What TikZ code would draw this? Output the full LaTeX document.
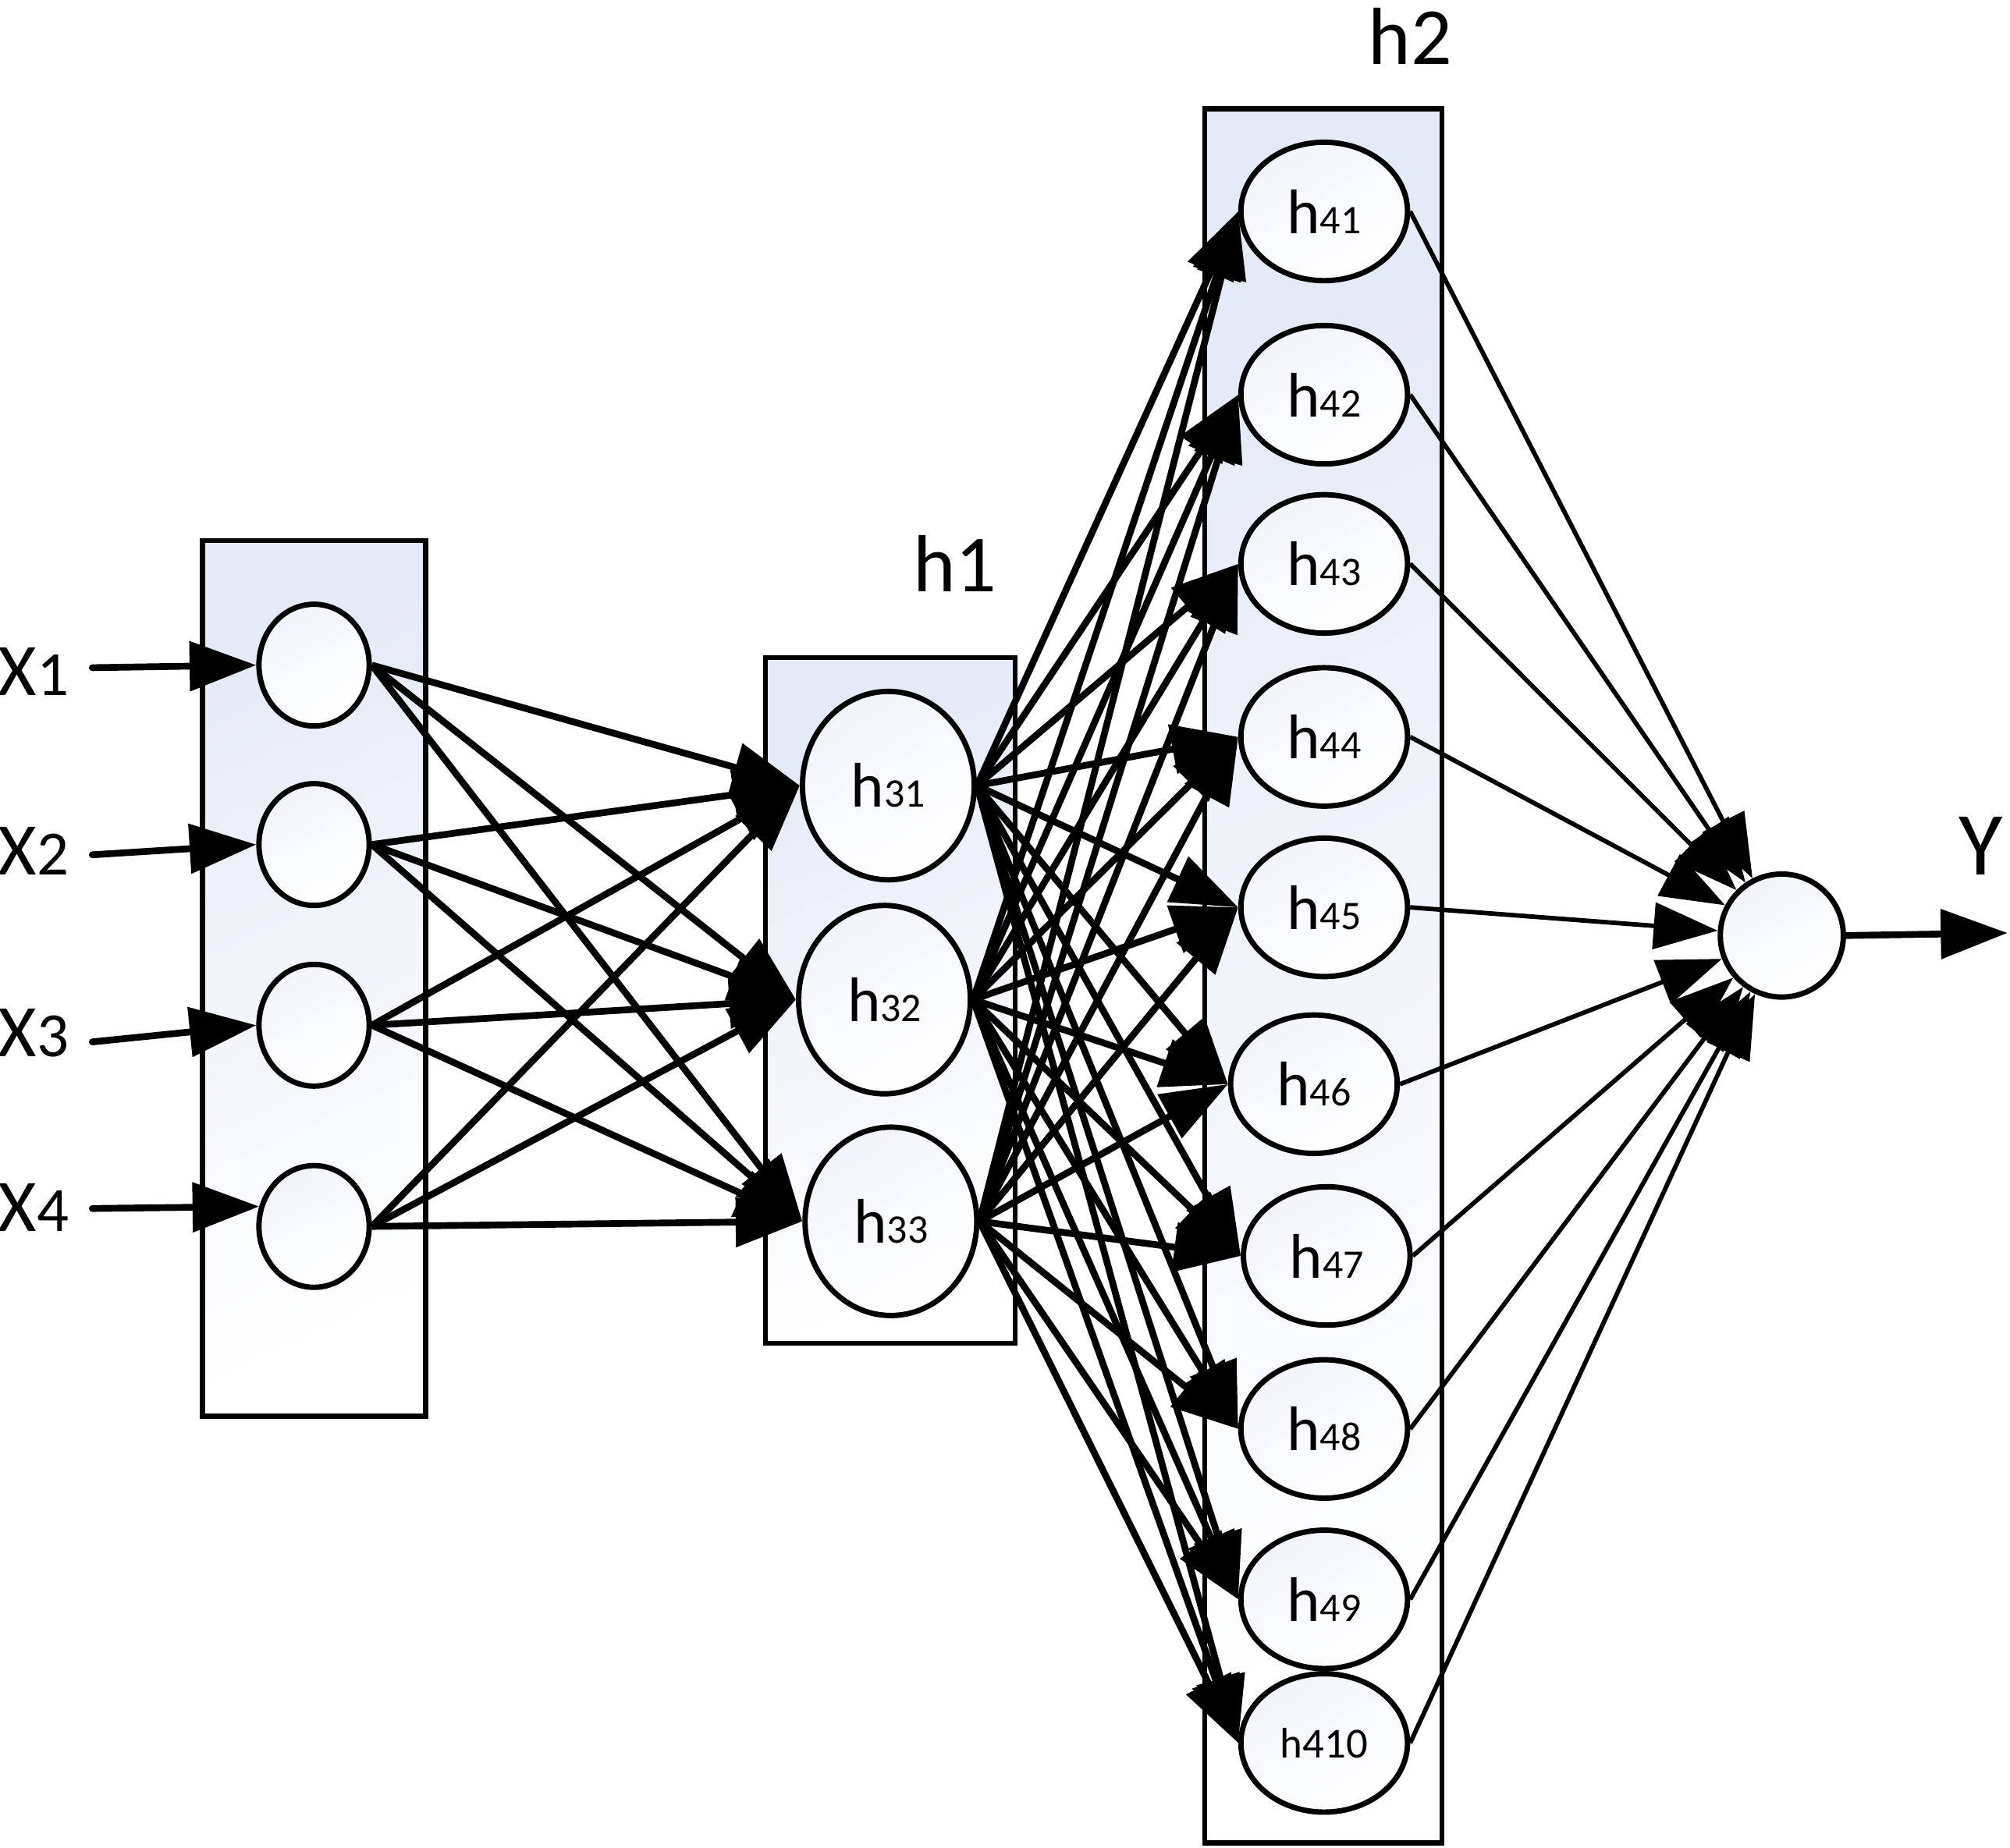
\documentclass[tikz,border=0pt]{standalone}
\usepackage{fontspec}
\setmainfont{Carlito}
\usetikzlibrary{arrows.meta,positioning,shapes.geometric}
\definecolor{paleblue}{RGB}{228,234,246}
\newcommand{\hname}[1]{{\fontsize{14}{14}\selectfont h}{\fontsize{9}{9}\selectfont #1}}
\newcommand{\xname}[1]{{\fontsize{16.5}{16.5}\selectfont X}{\fontsize{14}{14}\selectfont #1}}
\begin{document}
\begin{tikzpicture}[x=0.1mm, y=-0.1mm]
  \tikzset{
    layer/.style={draw=black, line width=1.1pt, top color=paleblue, bottom color=white, shading angle=25},
    unit/.style={ellipse, draw=black, line width=1.2pt, top color=paleblue!50!white, bottom color=white, shading angle=30, inner sep=0pt},
    inunit/.style={unit, minimum width=8.6mm, minimum height=9.5mm},
    hunit/.style={unit, minimum width=13.4mm, minimum height=14.7mm},
    hhunit/.style={unit, minimum width=13mm, minimum height=10.8mm},
    outunit/.style={unit, minimum width=9.6mm, minimum height=9.6mm},
    fat/.style={line width=1.5pt, -{Triangle[length=5.2mm,width=3.8mm]}},
    slim/.style={line width=1pt, -{Triangle[length=5mm,width=3.6mm]}},
    title/.style={font=\fontsize{18}{18}\selectfont, inner sep=0pt}
  }
  \useasboundingbox (0,0) rectangle (1568,1442);

  % layer boxes
  \draw[layer] (158,422) rectangle (332,1105);
  \draw[layer] (597,513) rectangle (792,1048);
  \draw[layer] (940,85) rectangle (1125,1438);
  \node[title] (l1) at (745,440) {h1};
  \node[title] (l2) at (1100,28) {h2};

  % input layer
  \node[inunit] (i1) at (245,519) {};
  \node[inunit] (i2) at (245,659) {};
  \node[inunit] (i3) at (245,800) {};
  \node[inunit] (i4) at (245,957) {};
  \node[anchor=west, inner sep=0pt] (x1) at (-2,524) {\xname{1}};
  \node[anchor=west, inner sep=0pt] (x2) at (-2,664) {\xname{2}};
  \node[anchor=west, inner sep=0pt] (x3) at (-2,806) {\xname{3}};
  \node[anchor=west, inner sep=0pt] (x4) at (-2,942) {\xname{4}};
  \coordinate (s1) at (72,521);
  \coordinate (s2) at (72,667);
  \coordinate (s3) at (72,813);
  \coordinate (s4) at (72,943);

  % first hidden layer
  \node[hunit] (h31) at (693,613) {\hname{31}};
  \node[hunit] (h32) at (690,780) {\hname{32}};
  \node[hunit] (h33) at (695,953) {\hname{33}};

  % second hidden layer
  \node[hhunit] (h41) at (1033,165) {\hname{41}};
  \node[hhunit] (h42) at (1033,308) {\hname{42}};
  \node[hhunit] (h43) at (1033,440) {\hname{43}};
  \node[hhunit] (h44) at (1033,575) {\hname{44}};
  \node[hhunit] (h45) at (1033,708) {\hname{45}};
  \node[hhunit] (h46) at (1025,846) {\hname{46}};
  \node[hhunit] (h47) at (1035,980) {\hname{47}};
  \node[hhunit] (h48) at (1033,1115) {\hname{48}};
  \node[hhunit] (h49) at (1033,1248) {\hname{49}};
  \node[hhunit] (h410) at (1033,1360) {\fontsize{9.5}{9.5}\selectfont h410};

  % output
  \node[outunit] (out) at (1390,730) {};
  \coordinate (yend) at (1566,728);
  \node[title, font=\fontsize{20}{20}\selectfont] (y) at (1545,660) {Y};

  % connections
  \draw[fat, line cap=round] (s1) -- (i1.west);
  \draw[fat, line cap=round] (s2) -- (i2.west);
  \draw[fat, line cap=round] (s3) -- (i3.west);
  \draw[fat, line cap=round] (s4) -- (i4.160);
  \foreach \i in {1,...,4}
    \foreach \j in {1,2,3}
      \draw[fat] (i\i.east) -- (h3\j.west);
  \foreach \j in {1,2,3}
    \foreach \k in {1,...,10}
      \draw[fat] (h3\j.east) -- (h4\k.west);
  \foreach \k in {1,...,10}
    \draw[slim] (h4\k.east) -- (out);
  \draw[fat] (out.east) -- (yend);
\end{tikzpicture}
\end{document}
